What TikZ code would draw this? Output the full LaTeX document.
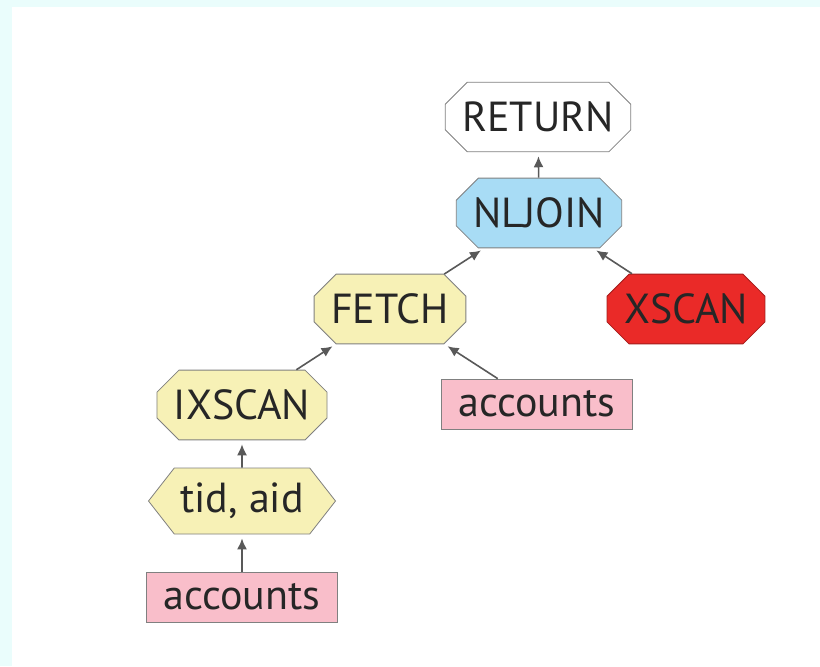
\documentclass[tikz,border=0pt]{standalone}
\usepackage{fontspec}
\setmainfont{PT Sans}
\usepackage{tikz}
\usetikzlibrary{arrows.meta,shapes.misc,shapes.symbols}

\begin{document}
\begin{tikzpicture}[
            x=0.5pt,y=-0.5pt,
            font=\fontsize{21}{25}\selectfont
        ]
            \definecolor{blx}{RGB}{168,220,245}
            \definecolor{yex}{RGB}{247,241,182}
            \definecolor{rex}{RGB}{234,42,40}
            \definecolor{pix}{RGB}{249,190,202}
            \definecolor{bgx}{RGB}{234,253,252}
            \colorlet{bdx}{black!50}
            \colorlet{txx}{black!85}

            \tikzset{
                op/.style={draw=bdx,fill=yex,text=txx,chamfered rectangle,
                    chamfered rectangle xsep=4.5pt,chamfered rectangle ysep=6.5pt,
                    minimum height=31pt,inner xsep=4pt},
                key/.style={draw=bdx,fill=yex,text=txx,signal,signal to=west and east,
                    signal pointer angle=104,minimum height=33pt,inner xsep=3pt},
                tbl/.style={draw=bdx,fill=pix,text=txx,rectangle,
                    minimum height=25pt,inner xsep=8.5pt},
                edge/.style={draw=black!65,thick,-{Latex[length=5.5pt,width=5pt]},shorten >=2pt}
            }

            % page
            \useasboundingbox (0,0) rectangle (820,666);
            \fill [bgx] (0,0) rectangle (820,666);
            \fill [white] (12,7) rectangle (820,666);

            \node (ret)  [op,fill=white]        at (538,117) {RETURN};
            \node (nlj)  [op,fill=blx]          at (539,213) {NLJOIN};
            \node (fet)  [op]                   at (390,309) {FETCH};
            \node (xsc)  [op,fill=rex,draw=rex!70!black] at (686,309) {XSCAN};
            \node (ixs)  [op]                   at (242,405) {IXSCAN};
            \node (acc1) [tbl]                  at (537,404) {accounts};
            \node (tid)  [key]                  at (242,501) {tid, aid};
            \node (acc2) [tbl]                  at (242,597) {accounts};

            \draw [edge] (nlj)  -- (ret);
            \draw [edge] (fet)  -- (nlj);
            \draw [edge] (xsc)  -- (nlj);
            \draw [edge] (ixs)  -- (fet);
            \draw [edge] (acc1) -- (fet);
            \draw [edge] (tid)  -- (ixs);
            \draw [edge] (acc2) -- (tid);
\end{tikzpicture}
\end{document}
